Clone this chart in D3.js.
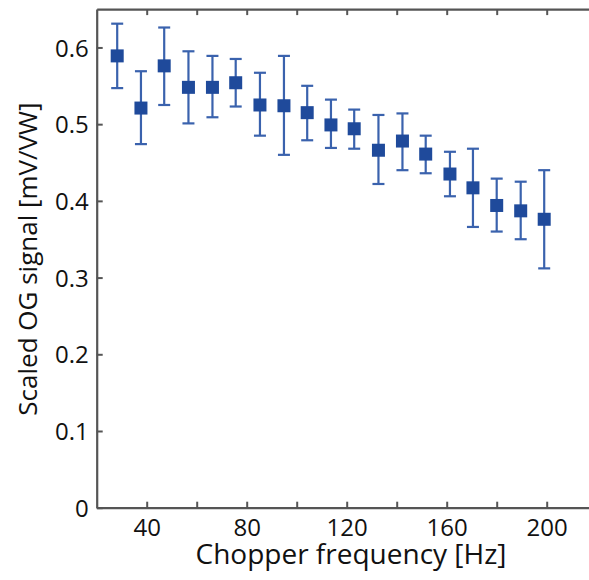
<!DOCTYPE html>
<html>
<head>
<meta charset="utf-8">
<script src="https://cdn.jsdelivr.net/npm/d3@7"></script>
<style>
  html, body { margin: 0; padding: 0; background: #fff; }
  svg { display: block; }
  text { font-family: "Open Sans", "Noto Sans", sans-serif; fill: #111; }
</style>
</head>
<body>
<svg id="chart" width="589" height="580"></svg>
<script>
// ---- data ----
const frequencies = [28.2, 37.7, 47.0, 56.7, 66.3, 75.6, 85.3, 94.9, 104.2, 113.7, 123.0, 132.7, 142.3, 151.6, 161.3, 170.5, 180.0, 189.6, 199.0];
const signalMean  = [0.589, 0.521, 0.576, 0.548, 0.548, 0.554, 0.525, 0.524, 0.515, 0.499, 0.494, 0.466, 0.478, 0.461, 0.435, 0.417, 0.394, 0.387, 0.376];
const signalUpper = [0.631, 0.569, 0.626, 0.595, 0.589, 0.585, 0.567, 0.589, 0.550, 0.532, 0.519, 0.512, 0.514, 0.485, 0.464, 0.468, 0.429, 0.425, 0.440];
const signalLower = [0.547, 0.474, 0.525, 0.501, 0.509, 0.523, 0.485, 0.460, 0.479, 0.469, 0.468, 0.422, 0.440, 0.436, 0.406, 0.366, 0.360, 0.350, 0.312];
const xTicks = [40, 60, 80, 100, 120, 140, 160, 180, 200];
const xTickLabels = [40, 80, 120, 160, 200];
const yTicks = [0, 0.1, 0.2, 0.3, 0.4, 0.5, 0.6];
const xTitle = "Chopper frequency [Hz]";
const yTitle = "Scaled OG signal [mV/VW]";

const svg = d3.select("#chart");
const x = d3.scaleLinear().domain([20, 220]).range([96.7, 596.7]);
const y = d3.scaleLinear().domain([0, 0.65]).range([507.7, 9.1]);

const axisColor = "#555";
const tickLen = 6;
const fmtY = d => d === 0 ? "0" : d3.format(".1f")(d);

// bottom axis
const gB = svg.append("g").attr("transform", `translate(0,${y(0)})`)
  .call(d3.axisBottom(x).tickValues(xTicks).tickSizeInner(-tickLen).tickSizeOuter(0)
        .tickFormat(d => xTickLabels.includes(d) ? d : ""));
// top axis
const gT = svg.append("g").attr("transform", `translate(0,${y(0.65)})`)
  .call(d3.axisTop(x).tickValues(xTicks).tickSizeInner(-tickLen).tickSizeOuter(0).tickFormat(""));
// left axis
const gL = svg.append("g").attr("transform", `translate(${x(20)},0)`)
  .call(d3.axisLeft(y).tickValues(yTicks).tickSizeInner(-tickLen).tickSizeOuter(0).tickFormat(fmtY));
// right axis
const gR = svg.append("g").attr("transform", `translate(${x(220)},0)`)
  .call(d3.axisRight(y).tickValues(yTicks).tickSizeInner(-tickLen).tickSizeOuter(0).tickFormat(""));

// drop empty tick labels
[gB, gT, gR].forEach(g => g.selectAll(".tick text").filter(function () { return this.textContent === ""; }).remove());

[gB, gT, gL, gR].forEach(g => {
  g.select(".domain").attr("stroke", axisColor).attr("stroke-width", 2.2);
  g.selectAll(".tick line").attr("stroke", axisColor).attr("stroke-width", 2);
});
gB.selectAll(".tick text").attr("font-size", 24).attr("fill", "#111")
  .attr("font-family", "Open Sans, Noto Sans, sans-serif").attr("y", 11).attr("dy", "0.71em");
gL.selectAll(".tick text").attr("font-size", 24).attr("fill", "#111")
  .attr("font-family", "Open Sans, Noto Sans, sans-serif").attr("x", -8).attr("dy", "0.36em");

// titles
svg.append("text").attr("x", 351).attr("y", 564).attr("text-anchor", "middle")
  .attr("font-size", 28).text(xTitle);
svg.append("text").attr("transform", `translate(37,259) rotate(-90)`).attr("text-anchor", "middle")
  .attr("font-size", 26).text(yTitle);

// data
const pts = frequencies.map((f, i) => ({ f, m: signalMean[i], lo: signalLower[i], hi: signalUpper[i] }));
const barColor = "#3a62ad";
const markColor = "#1f4a9b";
const capW = 12;
const gD = svg.append("g");
gD.selectAll("line.err").data(pts).join("line").attr("class", "err")
  .attr("x1", d => x(d.f)).attr("x2", d => x(d.f))
  .attr("y1", d => y(d.lo)).attr("y2", d => y(d.hi))
  .attr("stroke", barColor).attr("stroke-width", 2.2);
gD.selectAll("line.capT").data(pts).join("line").attr("class", "capT")
  .attr("x1", d => x(d.f) - capW / 2).attr("x2", d => x(d.f) + capW / 2)
  .attr("y1", d => y(d.hi)).attr("y2", d => y(d.hi))
  .attr("stroke", barColor).attr("stroke-width", 2.2);
gD.selectAll("line.capB").data(pts).join("line").attr("class", "capB")
  .attr("x1", d => x(d.f) - capW / 2).attr("x2", d => x(d.f) + capW / 2)
  .attr("y1", d => y(d.lo)).attr("y2", d => y(d.lo))
  .attr("stroke", barColor).attr("stroke-width", 2.2);
const sq = 13;
gD.selectAll("rect").data(pts).join("rect")
  .attr("x", d => x(d.f) - sq / 2).attr("y", d => y(d.m) - sq / 2)
  .attr("width", sq).attr("height", sq).attr("fill", markColor);
</script>
</body>
</html>
